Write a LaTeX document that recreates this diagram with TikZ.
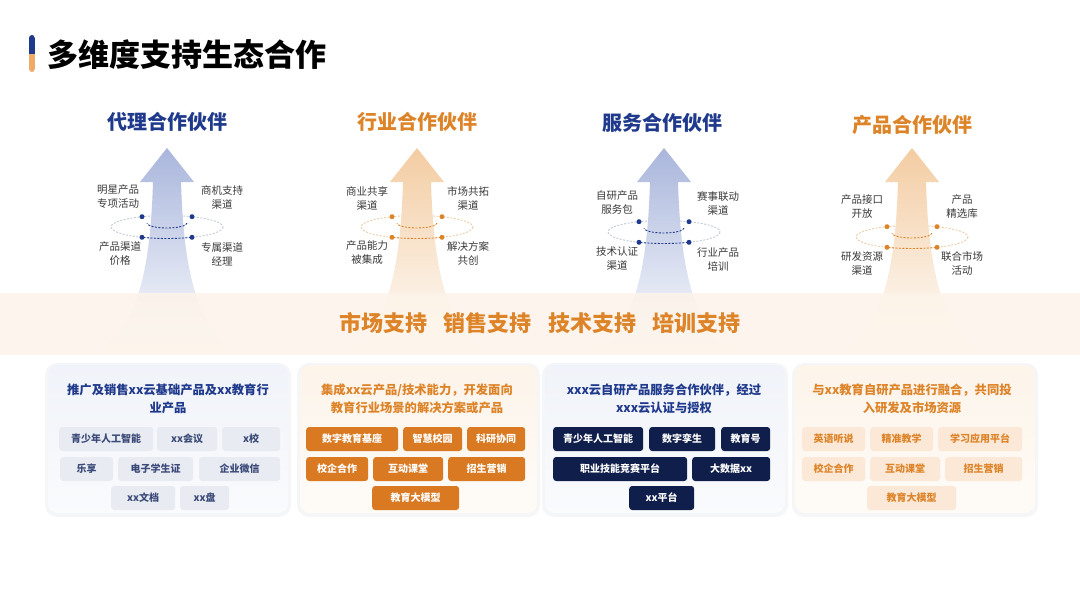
\documentclass[tikz,border=0pt]{standalone}
\usepackage{fontspec}
\setmainfont{Noto Sans CJK SC}
\usepackage{xcolor}
\usetikzlibrary{positioning}
\definecolor{ptblue}{HTML}{1F3A8C}
\definecolor{ptorange}{HTML}{DD8429}
\definecolor{barorange}{HTML}{EFAA68}
\definecolor{lblgray}{HTML}{3A3A3A}
\definecolor{arrblue}{HTML}{A9B6DC}
\definecolor{arrorange}{HTML}{F3CCA2}
\definecolor{ringgray}{HTML}{C3C9D8}
\definecolor{ringpeach}{HTML}{EDCDAA}
\definecolor{bandfill}{HTML}{FDF4EA}
\definecolor{chipgrayfill}{HTML}{E8EBF2}
\definecolor{chipgraytext}{HTML}{3B4A78}
\definecolor{chiporangefill}{HTML}{D97A22}
\definecolor{chipnavyfill}{HTML}{0F1E4A}
\definecolor{chippeachfill}{HTML}{FBE8D6}
\definecolor{panelblue}{HTML}{F0F3F9}
\definecolor{panelpeach}{HTML}{FDF4EA}
\definecolor{shadowgray}{HTML}{F5F6F8}

\begin{document}
\begin{tikzpicture}[x=1pt, y=-1pt,
  coltitle/.style={inner sep=0pt, font=\fontsize{20}{24}\selectfont\bfseries},
  lbl/.style={inner sep=0pt, align=center, text=lblgray, font=\fontsize{10.5}{14}\selectfont},
  ptitle/.style={inner sep=0pt, align=center, font=\fontsize{12.3}{18}\selectfont\bfseries},
  chip/.style={anchor=west, inner sep=0pt, rounded corners=3pt, minimum height=24pt, font=\fontsize{10}{12}\selectfont\bfseries},
  chipgray/.style={chip, fill=chipgrayfill, text=chipgraytext},
  chiporange/.style={chip, fill=chiporangefill, text=white},
  chipnavy/.style={chip, fill=chipnavyfill, text=white},
  chippeach/.style={chip, fill=chippeachfill, text=ptorange},
  dot/.style={circle, inner sep=0pt, minimum size=5pt},
  ring/.style={dash pattern=on 2pt off 1.5pt, line width=0.9pt}]
\useasboundingbox (0,0) rectangle (1080,608);
\fill[white] (0,0) rectangle (1080,608);

% heading
\begin{scope}
  \clip[rounded corners=3pt] (29,35) rectangle (35,72);
  \fill[ptblue] (29,35) rectangle (35,53.5);
  \fill[barorange] (29,53.5) rectangle (35,72);
\end{scope}
\node[anchor=west, inner sep=0pt, font=\fontsize{31}{36}\selectfont\bfseries] (title) at (47,55) {多维度支持生态合作};

% arrows with the back of each ring
\foreach \c/\dy/\arr/\back in {167/0/arrblue/ringgray, 417/0/arrorange/ringpeach, 664/5/arrblue/ringgray, 912/10/arrorange/ringpeach}{
  \draw[ring, draw=\back] (\c,227+\dy) ellipse [x radius=56, y radius=11.5];
  \path[top color=\arr, bottom color=white, middle color=\arr!50!white]
    (\c,148) -- (\c+27,182) -- (\c+14,182) .. controls (\c+17,280) and (\c+32,330) .. (\c+74,356)
    -- (\c-74,356) .. controls (\c-32,330) and (\c-17,280) .. (\c-14,182) -- (\c-27,182) -- cycle;
}

% support band
\fill[bandfill, fill opacity=0.85] (0,293) rectangle (1080,355);
\node[inner sep=0pt, text=ptorange, font=\fontsize{22}{26}\selectfont\bfseries] (support) at (540,323)
  {市场支持\hspace{0.75em}销售支持\hspace{0.75em}技术支持\hspace{0.75em}培训支持};

% front of each ring and its dots
\foreach \c/\dy/\front [count=\i] in {167/0/ptblue, 417/0/ptorange, 664/5/ptblue, 912/10/ptorange}{
  \begin{scope}
    \clip (\c-25,227+\dy) rectangle (\c+25,245+\dy);
    \draw[ring, draw=\front] (\c,227+\dy) ellipse [x radius=56, y radius=11.5];
  \end{scope}
  \begin{scope}
    \clip (\c-22,223+\dy) rectangle (\c+22,232+\dy);
    \draw[ring, draw=\front] (\c,223+\dy) ellipse [x radius=20, y radius=5];
  \end{scope}
  \node[dot, fill=\front] (d\i a) at (\c-25,216.7+\dy) {};
  \node[dot, fill=\front] (d\i b) at (\c+25,216.7+\dy) {};
  \node[dot, fill=\front] (d\i c) at (\c-25,237.3+\dy) {};
  \node[dot, fill=\front] (d\i d) at (\c+25,237.3+\dy) {};
}

% partner titles
\node[coltitle, text=ptblue] (agent) at (167,122) {代理合作伙伴};
\node[coltitle, text=ptorange] (industry) at (417,122) {行业合作伙伴};
\node[coltitle, text=ptblue] (service) at (662,123) {服务合作伙伴};
\node[coltitle, text=ptorange] (product) at (912,125) {产品合作伙伴};

% ring labels
\node[lbl] (agentA) at (118,197) {明星产品\\专项活动};
\node[lbl] (agentB) at (222,197) {商机支持\\渠道};
\node[lbl] (agentC) at (120,254) {产品渠道\\价格};
\node[lbl] (agentD) at (222,254) {专属渠道\\经理};
\node[lbl] (industryA) at (367,198) {商业共享\\渠道};
\node[lbl] (industryB) at (468,198) {市场共拓\\渠道};
\node[lbl] (industryC) at (367,253) {产品能力\\被集成};
\node[lbl] (industryD) at (468,253) {解决方案\\共创};
\node[lbl] (serviceA) at (617,203) {自研产品\\服务包};
\node[lbl] (serviceB) at (718,203) {赛事联动\\渠道};
\node[lbl] (serviceC) at (617,259) {技术认证\\渠道};
\node[lbl] (serviceD) at (718,259) {行业产品\\培训};
\node[lbl] (productA) at (862,207) {产品接口\\开放};
\node[lbl] (productB) at (962,207) {产品\\精选库};
\node[lbl] (productC) at (862,263) {研发资源\\渠道};
\node[lbl] (productD) at (962,263) {联合市场\\活动};

% panels
\foreach \xa/\xb/\pc in {48/288/panelblue, 300/537/panelpeach, 545/785/panelblue, 795/1035/panelpeach}{
  \fill[shadowgray, rounded corners=12pt] (\xa-3,363) rectangle (\xb+3,517);
  \path[rounded corners=10pt, top color=\pc, bottom color=\pc!35!white] (\xa,365) rectangle (\xb,513);
}
\node[ptitle, text=ptblue] (agentT) at (168,399) {推广及销售xx云基础产品及xx教育行\\业产品};
\node[ptitle, text=ptorange] (industryT) at (417,399) {集成xx云产品/技术能力，开发面向\\教育行业场景的解决方案或产品};
\node[ptitle, text=ptblue] (serviceT) at (664,399) {xxx云自研产品服务合作伙伴，经过\\xxx云认证与授权};
\node[ptitle, text=ptorange] (productT) at (912,399) {与xx教育自研产品进行融合，共同投\\入研发及市场资源};

% chips
\foreach \xa/\xb/\y/\t [count=\i] in {59/153/439/青少年人工智能, 157/217/439/xx会议, 222/280/439/x校, 60/113/469/乐享, 118/193/469/电子学生证, 199/280/469/企业微信, 111/175/498/xx文档, 180/229/498/xx盘}
  \node[chipgray, minimum width={(\xb-\xa)*1pt}] (a\i) at (\xa,\y) {\t};
\foreach \xa/\xb/\y/\t [count=\i] in {306/398/439/数字教育基座, 403/462/439/智慧校园, 467/525/439/科研协同, 306/368/469/校企合作, 373/443/469/互动课堂, 448/525/469/招生营销, 372/459/498/教育大模型}
  \node[chiporange, minimum width={(\xb-\xa)*1pt}] (b\i) at (\xa,\y) {\t};
\foreach \xa/\xb/\y/\t [count=\i] in {553/643/439/青少年人工智能, 649/715/439/数字孪生, 721/770/439/教育号, 553/687/469/职业技能竞赛平台, 692/770/469/大数据xx, 629/694/498/xx平台}
  \node[chipnavy, minimum width={(\xb-\xa)*1pt}] (s\i) at (\xa,\y) {\t};
\foreach \xa/\xb/\y/\t [count=\i] in {802/865/439/英语听说, 870/933/439/精准教学, 938/1022/439/学习应用平台, 802/865/469/校企合作, 870/940/469/互动课堂, 945/1022/469/招生营销, 867/956/498/教育大模型}
  \node[chippeach, minimum width={(\xb-\xa)*1pt}] (p\i) at (\xa,\y) {\t};
\end{tikzpicture}
\end{document}
